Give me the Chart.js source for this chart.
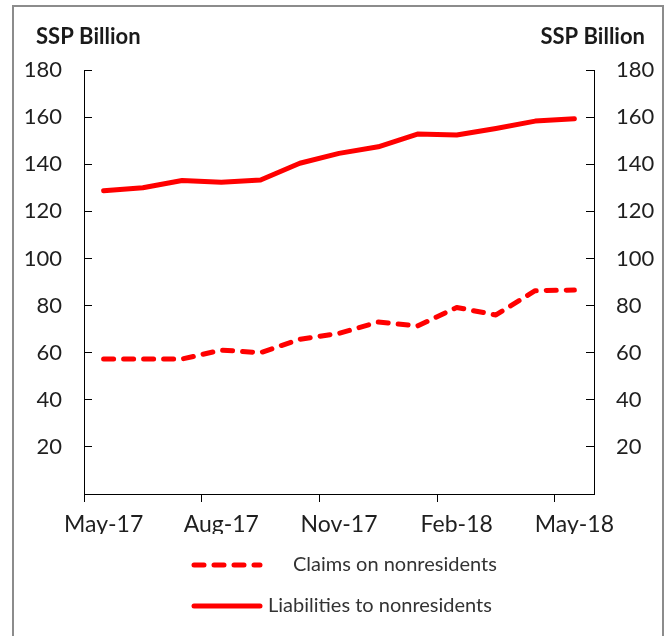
<!DOCTYPE html>
<html>
<head>
<meta charset="utf-8">
<script src="https://cdn.jsdelivr.net/npm/chart.js@4.4.1/dist/chart.umd.min.js"></script>
<style>
  html, body { margin:0; padding:0; background:#fff; overflow:hidden; }
  #frame { position:absolute; left:12px; top:5px; width:652px; height:660px; box-sizing:border-box;
           border:2px solid #8c8c8c; border-bottom:none; }
  #c { position:absolute; left:0; top:0; }
</style>
</head>
<body>
<div id="frame"></div>
<canvas id="c" width="668" height="636"></canvas>
<script>
/* ---------- data ---------- */
const months      = ["May-17","Jun-17","Jul-17","Aug-17","Sep-17","Oct-17","Nov-17",
                     "Dec-17","Jan-18","Feb-18","Mar-18","Apr-18","May-18"];
const claims      = [57.3, 57.3, 57.3, 61.1, 60.0, 65.7, 68.2, 73.0, 71.3, 79.2, 76.0, 86.3, 86.6];
const liabilities = [128.7, 130.0, 133.1, 132.3, 133.3, 140.4, 144.6, 147.4, 152.8, 152.4, 155.2, 158.3, 159.3];
const seriesNames = ["Claims on nonresidents", "Liabilities to nonresidents"];
const unitLabel   = "SSP Billion";
const yMin = 0, yMax = 180, yStep = 20;

Chart.defaults.font.family = "Lato";
Chart.defaults.color = "#1f1f1f";

/* ---------- titles + hand placed legend ---------- */
const extras = {
  id: "extras",
  afterDraw(chart) {
    const ctx = chart.ctx;
    ctx.save();
    ctx.fillStyle = "#1a1a1a";
    ctx.font = "bold 22px Lato";
    ctx.textBaseline = "middle";
    ctx.textAlign = "left";
    ctx.fillText(unitLabel, 36, 37);
    ctx.textAlign = "right";
    ctx.fillText(unitLabel, 645, 37);

    const rows = [
      { ds: 0, y: 565, x0: 194, x1: 260, tx: 293 },
      { ds: 1, y: 606, x0: 194, x1: 260, tx: 268 }
    ];
    rows.forEach(r => {
      const d = chart.data.datasets[r.ds];
      ctx.strokeStyle = d.borderColor;
      ctx.lineWidth = d.borderWidth;
      ctx.lineCap = "round";
      ctx.setLineDash(d.borderDash || []);
      ctx.beginPath();
      ctx.moveTo(r.x0, r.y);
      ctx.lineTo(r.x1, r.y);
      ctx.stroke();
      ctx.setLineDash([]);
      ctx.fillStyle = "#333";
      ctx.font = "20px Lato";
      ctx.textAlign = "left";
      ctx.fillText(d.label, r.tx, r.y);
    });
    ctx.restore();
  }
};

const yAxis = (pos, w) => ({
  position: pos,
  min: yMin, max: yMax,
  grid: { drawOnChartArea: false, drawTicks: true, tickLength: -8, tickColor: "#000" },
  border: { display: true, color: "#000", width: 1 },
  ticks: {
    stepSize: yStep, padding: 30,
    font: { size: 22 },
    callback: v => (v === 0 ? "" : v)
  },
  afterFit: s => { s.width = w; }
});

new Chart(document.getElementById("c"), {
  type: "line",
  data: {
    labels: months,
    datasets: [
      { label: seriesNames[0], data: claims, borderColor: "#ff0000", borderWidth: 5,
        borderDash: [10, 10], borderCapStyle: "round", borderJoinStyle: "round",
        pointRadius: 0, tension: 0, yAxisID: "y" },
      { label: seriesNames[1], data: liabilities, borderColor: "#ff0000", borderWidth: 5,
        borderCapStyle: "round", borderJoinStyle: "round",
        pointRadius: 0, tension: 0, yAxisID: "y" }
    ]
  },
  options: {
    responsive: false,
    devicePixelRatio: 1,
    animation: false,
    layout: { padding: { left: 0, right: 0, top: 70, bottom: 102 } },
    plugins: { legend: { display: false }, tooltip: { enabled: false } },
    scales: {
      x: {
        type: "category",
        offset: true,
        grid: {
          offset: true, drawOnChartArea: false, drawTicks: true, tickLength: 8,
          tickColor: c => (c.index % 3 === 0 ? "#000" : "rgba(0,0,0,0)")
        },
        border: { display: true, color: "#000", width: 1 },
        ticks: {
          autoSkip: false, maxRotation: 0, padding: 9,
          font: { size: 23 },
          callback: (v, i) => (i % 3 === 0 ? months[i] : "")
        },
        afterFit: s => { s.height = 40; }
      },
      y: yAxis("left", 84),
      y2: yAxis("right", 74)
    }
  },
  plugins: [extras]
});
</script>
</body>
</html>
